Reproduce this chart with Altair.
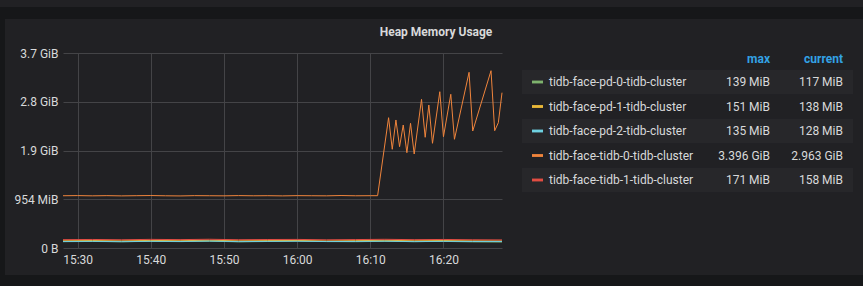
import altair as alt
import pandas as pd

# ---------------- data ----------------
SERIES = [
    "tidb-face-pd-0-tidb-cluster",
    "tidb-face-pd-1-tidb-cluster",
    "tidb-face-pd-2-tidb-cluster",
    "tidb-face-tidb-0-tidb-cluster",
    "tidb-face-tidb-1-tidb-cluster",
]
COLORS = ["#7eb26d", "#eab839", "#6ed0e0", "#ef843c", "#e24d42"]
MAX_LABELS = ["139 MiB", "151 MiB", "135 MiB", "3.396 GiB", "171 MiB"]
CURRENT_LABELS = ["117 MiB", "138 MiB", "128 MiB", "2.963 GiB", "158 MiB"]

DAY = "2019-06-01T"

# small series (MiB), sampled every 4 minutes
SMALL_TIMES = ["15:28", "15:32", "15:36", "15:40", "15:44", "15:48", "15:52", "15:56",
               "16:00", "16:04", "16:08", "16:12", "16:16", "16:20", "16:24", "16:28"]
PD0_MIB = [124, 128, 122, 130, 125, 133, 121, 127, 139, 126, 123, 131, 124, 129, 120, 117]
PD1_MIB = [142, 146, 140, 148, 143, 151, 141, 145, 147, 139, 144, 150, 142, 146, 140, 138]
PD2_MIB = [126, 130, 124, 131, 127, 135, 125, 129, 132, 126, 128, 133, 125, 130, 127, 128]
TIDB1_MIB = [163, 167, 161, 169, 164, 171, 162, 166, 168, 160, 165, 170, 163, 167, 161, 158]

# tidb-0 (units of 1e9 bytes)
TIDB0_TIMES = ["15:28:00", "15:30:00", "15:32:00", "15:34:00", "15:36:00", "15:38:00",
               "15:40:00", "15:42:00", "15:44:00", "15:46:00", "15:48:00", "15:50:00",
               "15:52:00", "15:54:00", "15:56:00", "15:58:00", "16:00:00", "16:02:00",
               "16:04:00", "16:06:00", "16:08:00", "16:10:00", "16:11:00",
               "16:12:30", "16:13:00", "16:13:30", "16:14:00", "16:14:30", "16:15:00",
               "16:15:30", "16:16:00", "16:17:00", "16:17:30", "16:18:00", "16:18:30",
               "16:19:30", "16:20:00", "16:21:00", "16:21:30", "16:23:30", "16:24:00",
               "16:26:30", "16:27:00", "16:27:30", "16:28:00"]
TIDB0_E9 = [1.072, 1.075, 1.070, 1.074, 1.069, 1.073, 1.076, 1.071, 1.068, 1.074,
            1.072, 1.070, 1.075, 1.071, 1.073, 1.069, 1.074, 1.072, 1.070, 1.076,
            1.071, 1.073, 1.073,
            2.673, 2.025, 2.626, 2.078, 2.523, 1.955, 2.558, 1.928, 3.050, 2.271,
            2.933, 2.148, 3.206, 2.283, 3.153, 2.230, 3.604, 2.400, 3.637, 2.406,
            2.570, 3.186]

Y_TICKS = [0, 1e9, 2e9, 3e9, 4e9]
Y_TICK_LABELS = ["0 B", "954 MiB", "1.9 GiB", "2.8 GiB", "3.7 GiB"]
X_TICKS = [(15, 30), (15, 40), (15, 50), (16, 0), (16, 10), (16, 20)]

# ---------------- frames ----------------
rows = []
for name, vals in [(SERIES[0], PD0_MIB), (SERIES[1], PD1_MIB), (SERIES[2], PD2_MIB),
                   (SERIES[4], TIDB1_MIB)]:
    for t, v in zip(SMALL_TIMES, vals):
        rows.append({"name": name, "t": DAY + t + ":00", "bytes": v * 1048576})
for t, v in zip(TIDB0_TIMES, TIDB0_E9):
    rows.append({"name": SERIES[3], "t": DAY + t, "bytes": v * 1e9})
df = pd.DataFrame(rows)

leg = pd.DataFrame({"name": SERIES, "maxl": MAX_LABELS, "curl": CURRENT_LABELS,
                    "idx": list(range(len(SERIES)))})

FONT = "Roboto"
TXT = "#d8d9da"
GRID = "#444447"
PANEL = "#212124"
DARK = "#161719"


def dt(h, m):
    return alt.DateTime(year=2019, month=6, date=1, hours=h, minutes=m)


label_expr = " : ".join(
    f"datum.value == {int(v)} ? '{l}'" for v, l in zip(Y_TICKS, Y_TICK_LABELS)
) + " : ''"

color_scale = alt.Scale(domain=SERIES, range=COLORS)
one = alt.Data(values=[{"a": 1}])


def deco(color, x0, x1, y0, y1):
    return alt.Chart(one).mark_rect(color=color).encode(
        x=alt.value(x0), x2=alt.value(x1), y=alt.value(y0), y2=alt.value(y1))


dark_top = deco(DARK, -63, 800, -53, -34)
top_strip = deco(PANEL, -63, 800, -53, -46)
dark_left = deco(DARK, -63, -58, -34, 222)
dark_bottom = deco(DARK, -63, 800, 222, 233)

lines = alt.Chart(df).mark_line(strokeWidth=1).encode(
    x=alt.X("t:T",
            scale=alt.Scale(domain=[dt(15, 28), dt(16, 28)]),
            axis=alt.Axis(values=[dt(h, m) for h, m in X_TICKS], format="%H:%M",
                          title=None, grid=True, gridColor=GRID, domain=False,
                          ticks=False, labelColor=TXT, labelFont=FONT,
                          labelFontSize=12, labelPadding=6)),
    y=alt.Y("bytes:Q",
            scale=alt.Scale(domain=[0, 4e9], nice=False),
            axis=alt.Axis(values=Y_TICKS, labelExpr=label_expr, title=None,
                          grid=True, gridColor=GRID, domain=False, ticks=False,
                          labelColor=TXT, labelFont=FONT, labelFontSize=12,
                          labelPadding=5)),
    color=alt.Color("name:N", scale=color_scale, legend=None),
)

yband = alt.Scale(type="band", domain=SERIES, range=[16.75, 139.25],
                  paddingInner=0, paddingOuter=0)
ybandenc = alt.Y("name:N", scale=yband, axis=None)

row_bg = alt.Chart(leg).transform_filter("datum.idx % 2 == 0").mark_rect(
    color="#27272a").encode(x=alt.value(459), x2=alt.value(790), y=ybandenc)

swatch = alt.Chart(leg).mark_point(
    shape="M-1,-0.26L1,-0.26L1,0.26L-1,0.26Z", filled=True, size=121, opacity=1
).encode(x=alt.value(474.5), y=ybandenc,
         color=alt.Color("name:N", scale=color_scale, legend=None))

names = alt.Chart(leg).mark_text(align="left", baseline="middle", font=FONT,
                                 fontSize=12, color=TXT).encode(
    x=alt.value(486), y=ybandenc, text="name:N")
maxes = alt.Chart(leg).mark_text(align="right", baseline="middle", font=FONT,
                                 fontSize=12, color=TXT).encode(
    x=alt.value(707), y=ybandenc, text="maxl:N")
currents = alt.Chart(leg).mark_text(align="right", baseline="middle", font=FONT,
                                    fontSize=12, color=TXT).encode(
    x=alt.value(780), y=ybandenc, text="curl:N")

hdr_max = alt.Chart(alt.Data(values=[{"h": "max"}])).mark_text(
    align="right", baseline="middle", font=FONT, fontSize=12, fontWeight="bold",
    color="#33a2e5").encode(x=alt.value(707), y=alt.value(6), text="h:N")
hdr_cur = alt.Chart(alt.Data(values=[{"h": "current"}])).mark_text(
    align="right", baseline="middle", font=FONT, fontSize=12, fontWeight="bold",
    color="#33a2e5").encode(x=alt.value(780), y=alt.value(6), text="h:N")

title = alt.Chart(alt.Data(values=[{"h": "Heap Memory Usage"}])).mark_text(
    align="center", baseline="middle", font=FONT, fontSize=12, fontWeight="bold",
    color=TXT).encode(x=alt.value(373), y=alt.value(-21), text="h:N")

chart = alt.layer(
    dark_top, top_strip, dark_left, dark_bottom, lines, row_bg, swatch, names,
    maxes, currents, hdr_max, hdr_cur, title
).resolve_scale(y="independent").properties(
    width=439, height=195,
    padding={"left": 63, "top": 53, "right": 361, "bottom": 38},
    autosize=alt.AutoSizeParams(type="none"),
    background=PANEL,
).configure_view(stroke=None)

chart.save("out.html", embed_options={"renderer": "svg", "actions": False})
